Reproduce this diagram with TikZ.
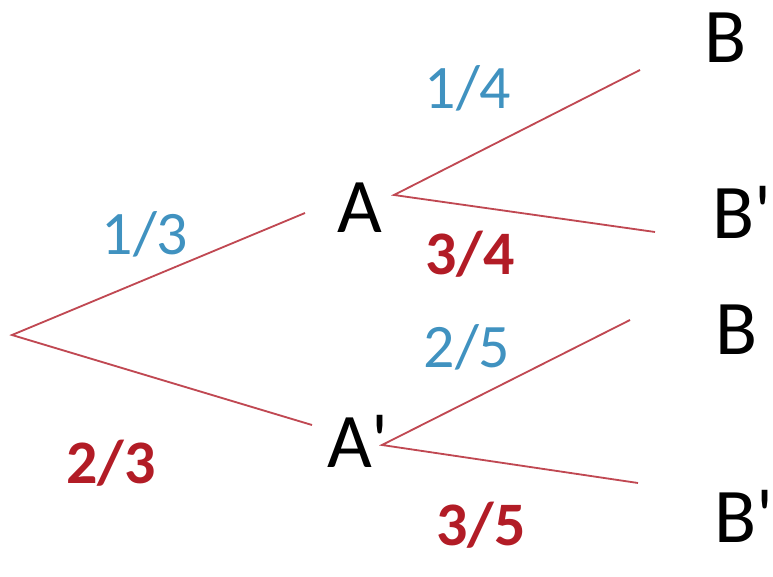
\documentclass[tikz,border=0pt]{standalone}
\usepackage{fontspec}
\setmainfont{Carlito}
\usepackage{tikz}
\usetikzlibrary{positioning}

\definecolor{branchred}{RGB}{192,72,82}
\definecolor{probblue}{RGB}{64,146,192}
\definecolor{probred}{RGB}{178,28,38}

\begin{document}
\begin{tikzpicture}[x=1cm,y=1cm,
  branch/.style={branchred,line width=1.3pt},
  event/.style={inner sep=0pt,anchor=base west,font=\fontsize{55}{64}\selectfont},
  pblue/.style={inner sep=0pt,probblue,font=\fontsize{44}{52}\selectfont},
  pred/.style={inner sep=0pt,probred,font=\fontsize{44}{52}\selectfont\bfseries}]
\useasboundingbox (0,0) rectangle (19.325,14.4);

% branch points
\coordinate (root) at (0.30,6.025);
\coordinate (aIn) at (7.625,9.075);
\coordinate (apIn) at (7.80,3.775);
\coordinate (aOut) at (9.85,9.525);
\coordinate (apOut) at (9.55,3.275);
\coordinate (endBA) at (16.0,12.65);
\coordinate (endBpA) at (16.375,8.6);
\coordinate (endBAp) at (15.75,6.4);
\coordinate (endBpAp) at (15.95,2.325);

% events
\node[event] (nA) at (8.42,8.575) {A};
\node[event] (nAp) at (8.17,2.725) {A\textquotesingle};
\node[event] (nBA) at (17.6,12.825) {B};
\node[event] (nBpA) at (17.8,8.45) {B\textquotesingle};
\node[event] (nBAp) at (17.875,5.55) {B};
\node[event] (nBpAp) at (17.85,0.85) {B\textquotesingle};

% branches
\draw[branch] (aIn) -- (root) -- (apIn);
\draw[branch] (endBA) -- (aOut) -- (endBpA);
\draw[branch] (endBAp) -- (apOut) -- (endBpAp);

% probabilities
\node[pblue] (p13) at (3.625,8.55) {1/3};
\node[pred] (p23) at (2.775,2.825) {2/3};
\node[pblue] (p14) at (11.7,12.2) {1/4};
\node[pred] (p34) at (11.75,8.05) {3/4};
\node[pblue] (p25) at (11.675,5.725) {2/5};
\node[pred] (p35) at (12.025,1.275) {3/5};
\end{tikzpicture}
\end{document}
